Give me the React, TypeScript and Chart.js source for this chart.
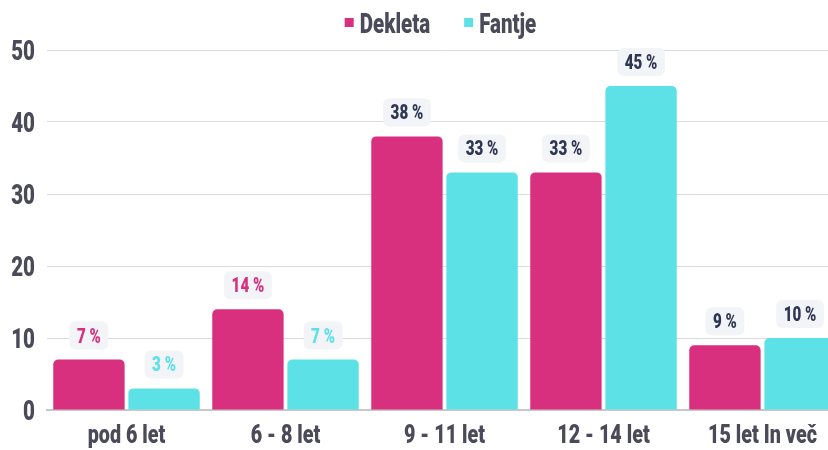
import React, { useEffect, useRef } from "react";
import { Chart, registerables } from "chart.js";

Chart.register(...registerables);

const categories = ["pod 6 let", "6 - 8 let", "9 - 11 let", "12 - 14 let", "15 let In več"];
const girls = [7, 14, 38, 33, 9];
const boys = [3, 7, 33, 45, 10];
const seriesNames = ["Dekleta", "Fantje"];
const yTicks = [0, 10, 20, 30, 40, 50];

const PINK = "#d82f7f";
const CYAN = "#5ce1e6";
const TEXT = "#4a4a58";
const NAVY = "#2e3654";
const FONT = "Roboto, 'Open Sans', sans-serif";
const WEIGHT = "900";
const SX = 0.76;

function drawText(
  ctx: CanvasRenderingContext2D,
  text: string,
  x: number,
  y: number,
  align: CanvasTextAlign,
  baseline: CanvasTextBaseline,
  size: number,
  color: string
) {
  ctx.save();
  ctx.translate(x, y);
  ctx.scale(SX, 1);
  ctx.font = `${WEIGHT} ${size}px ${FONT}`;
  ctx.textAlign = align;
  ctx.textBaseline = baseline;
  ctx.fillStyle = color;
  ctx.fillText(text, 0, 0);
  ctx.restore();
}

function textWidth(ctx: CanvasRenderingContext2D, text: string, size: number) {
  ctx.save();
  ctx.font = `${WEIGHT} ${size}px ${FONT}`;
  const w = ctx.measureText(text).width * SX;
  ctx.restore();
  return w;
}

const textPlugin = {
  id: "condensedText",
  afterDatasetsDraw(chart: any) {
    const ctx: CanvasRenderingContext2D = chart.ctx;
    chart.data.datasets.forEach((ds: any, di: number) => {
      const meta = chart.getDatasetMeta(di);
      meta.data.forEach((bar: any, i: number) => {
        const text = `${ds.data[i]} %`;
        const size = 20;
        const tw = textWidth(ctx, text, size);
        const w = tw + 15;
        const h = 28;
        const cx = bar.x;
        const cy = bar.y - 24;
        ctx.save();
        ctx.fillStyle = "#f2f4f7";
        ctx.beginPath();
        (ctx as any).roundRect(cx - w / 2, cy - h / 2, w, h, 6);
        ctx.fill();
        ctx.restore();
        const color = i < 2 ? (di === 0 ? PINK : CYAN) : NAVY;
        drawText(ctx, text, cx, cy + 7, "center", "alphabetic", size, color);
      });
    });
  },
  afterDraw(chart: any) {
    const ctx: CanvasRenderingContext2D = chart.ctx;
    const area = chart.chartArea;
    const y = chart.scales.y;
    yTicks.forEach((v) => {
      drawText(ctx, String(v), 35, y.getPixelForValue(v) + 10, "right", "alphabetic", 27, TEXT);
    });
    const x = chart.scales.x;
    categories.forEach((c, i) => {
      drawText(ctx, c, x.getPixelForValue(i), 443, "center", "alphabetic", 26, TEXT);
    });
    const size = 27;
    const sq = 9;
    const gapText = 6;
    const gapItem = 34;
    const colors = [PINK, CYAN];
    const widths = seriesNames.map((n) => sq + gapText + textWidth(ctx, n, size));
    const total = widths.reduce((a, b) => a + b, 0) + gapItem * (seriesNames.length - 1);
    let lx = (area.left + area.right) / 2 - total / 2 - 4;
    seriesNames.forEach((n, i) => {
      ctx.save();
      ctx.fillStyle = colors[i];
      ctx.fillRect(lx, 18, sq, sq);
      ctx.restore();
      drawText(ctx, n, lx + sq + gapText, 33, "left", "alphabetic", size, TEXT);
      lx += widths[i] + gapItem;
    });
  },
};

export default function App() {
  const ref = useRef<HTMLCanvasElement>(null);
  useEffect(() => {
    const chart = new Chart(ref.current!, {
      type: "bar",
      data: {
        labels: categories,
        datasets: [
          {
            label: seriesNames[0],
            data: girls,
            backgroundColor: PINK,
            borderRadius: { topLeft: 5, topRight: 5, bottomLeft: 0, bottomRight: 0 },
            borderSkipped: false,
          },
          {
            label: seriesNames[1],
            data: boys,
            backgroundColor: CYAN,
            borderRadius: { topLeft: 5, topRight: 5, bottomLeft: 0, bottomRight: 0 },
            borderSkipped: false,
          },
        ],
      },
      options: {
        animation: false,
        responsive: false,
        maintainAspectRatio: false,
        devicePixelRatio: 1,
        layout: { padding: { left: 47, right: 0, top: 50, bottom: 40 } },
        datasets: { bar: { categoryPercentage: 0.945, barPercentage: 0.95 } },
        plugins: {
          legend: { display: false },
          tooltip: { enabled: false },
        },
        scales: {
          x: {
            grid: { display: false, drawTicks: false },
            border: { color: "#c8c8c8", width: 2 },
            ticks: { display: false },
          },
          y: {
            min: 0,
            max: 50,
            afterBuildTicks: (axis: any) => {
              axis.ticks = yTicks.map((v) => ({ value: v }));
            },
            grid: { color: "#dcdcdc", drawTicks: false, tickLength: 0 },
            border: { display: false },
            ticks: { display: false },
          },
        },
      },
      plugins: [textPlugin],
    } as any);
    return () => chart.destroy();
  }, []);
  return (
    <div style={{ position: "fixed", left: 0, top: 0, width: 828, height: 450, overflow: "hidden", background: "#fff" }}>
      <canvas ref={ref} width={842} height={450} style={{ display: "block" }} />
    </div>
  );
}
